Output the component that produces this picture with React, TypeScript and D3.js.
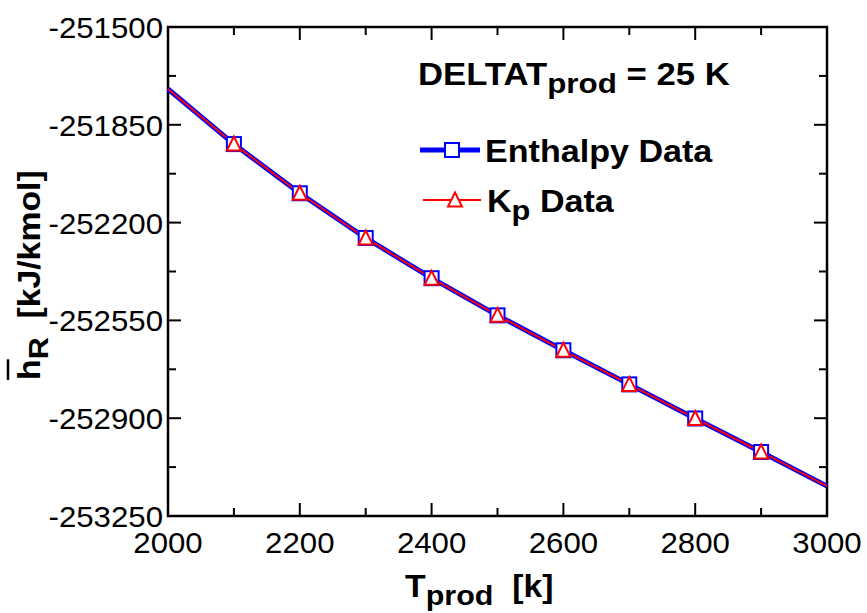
import React from "react";
import * as d3 from "d3";

const temps = [2000, 2100, 2200, 2300, 2400, 2500, 2600, 2700, 2800, 2900, 3000];
const enthalpyData = [-251722, -251919, -252095, -252255, -252399, -252532, -252657, -252779, -252901, -253021, -253143];
const kpData = [-251722, -251919, -252095, -252255, -252399, -252532, -252657, -252779, -252901, -253021, -253143];
const markerTemps = [2100, 2200, 2300, 2400, 2500, 2600, 2700, 2800, 2900];
const xTicks = [2000, 2200, 2400, 2600, 2800, 3000];
const xMinor = [2100, 2300, 2500, 2700, 2900];
const yTicks = [-251500, -251850, -252200, -252550, -252900, -253250];
const yMinor = [-251675, -252025, -252375, -252725, -253075];

const W = 867, H = 613;
const L = 168, R = 827, T = 27, B = 516;
const FONT = "'Liberation Sans', Arial, Helvetica, sans-serif";
const SX = 1.1; // horizontal stretch of bold text
const TX = 1.04; // horizontal stretch of tick labels

export default function App() {
  const x = d3.scaleLinear().domain([2000, 3000]).range([L, R]);
  const y = d3.scaleLinear().domain([-253250, -251500]).range([B, T]);
  const line = d3.line<[number, number]>().x(d => x(d[0])).y(d => y(d[1]));
  const ePts = temps.map((t, i) => [t, enthalpyData[i]] as [number, number]);
  const kPts = temps.map((t, i) => [t, kpData[i]] as [number, number]);
  const eMarks = ePts.filter(p => markerTemps.includes(p[0]));
  const kMarks = kPts.filter(p => markerTemps.includes(p[0]));
  const sq = 14;
  const tri = (cx: number, cy: number) => {
    const w = 14, h = 13;
    return `M${cx},${cy - h / 2 - 1}L${cx + w / 2},${cy + h / 2}L${cx - w / 2},${cy + h / 2}Z`;
  };
  const MAJ = 13, MIN = 8;

  return (
    <svg width={W} height={H} style={{ position: "absolute", left: 0, top: 0, background: "#fff" }} fontFamily={FONT}>
      <rect x={0} y={0} width={W} height={H} fill="#fff" />
      {/* ticks */}
      <g stroke="#000" strokeWidth={2}>
        {xTicks.map(t => (
          <g key={"xt" + t}>
            <line x1={x(t)} x2={x(t)} y1={B} y2={B - MAJ} />
            <line x1={x(t)} x2={x(t)} y1={T} y2={T + MAJ} />
          </g>
        ))}
        {xMinor.map(t => (
          <g key={"xm" + t}>
            <line x1={x(t)} x2={x(t)} y1={B} y2={B - MIN} />
            <line x1={x(t)} x2={x(t)} y1={T} y2={T + MIN} />
          </g>
        ))}
        {yTicks.map(v => (
          <g key={"yt" + v}>
            <line x1={L} x2={L + MAJ} y1={y(v)} y2={y(v)} />
            <line x1={R} x2={R - MAJ} y1={y(v)} y2={y(v)} />
          </g>
        ))}
        {yMinor.map(v => (
          <g key={"ym" + v}>
            <line x1={L} x2={L + MIN} y1={y(v)} y2={y(v)} />
            <line x1={R} x2={R - MIN} y1={y(v)} y2={y(v)} />
          </g>
        ))}
      </g>
      <rect x={L} y={T} width={R - L} height={B - T} fill="none" stroke="#000" strokeWidth={2.5} />
      {/* tick labels */}
      <g fontSize={30} fill="#000">
        {yTicks.map(v => (
          <g key={"yl" + v} transform={`translate(163,${y(v) + 11}) scale(${TX},1)`}>
            <text x={0} y={0} textAnchor="end">{String(v)}</text>
          </g>
        ))}
        {xTicks.map(t => (
          <g key={"xl" + t} transform={`translate(${x(t)},553) scale(${TX},1)`}>
            <text x={0} y={0} textAnchor="middle">{String(t)}</text>
          </g>
        ))}
      </g>
      {/* lines */}
      <path d={line(ePts) || ""} fill="none" stroke="#0000ff" strokeWidth={5} />
      <path d={line(kPts) || ""} fill="none" stroke="#ff0000" strokeWidth={2} />
      {eMarks.map(p => (
        <rect key={"sq" + p[0]} x={x(p[0]) - sq / 2} y={y(p[1]) - sq / 2} width={sq} height={sq} fill="#fff" stroke="#0000ff" strokeWidth={2} />
      ))}
      {kMarks.map(p => (
        <path key={"tr" + p[0]} d={tri(x(p[0]), y(p[1]))} fill="#fff" stroke="#ff0000" strokeWidth={2} />
      ))}
      {/* title */}
      <g transform={`translate(418,85) scale(1.12,1)`}>
        <text x={0} y={0} fontSize={31} fontWeight="bold" style={{ whiteSpace: "pre" }}>
          DELTAT<tspan fontSize={28} dy={8}>prod</tspan><tspan dy={-8}>{" = 25 K"}</tspan>
        </text>
      </g>
      {/* legend */}
      <line x1={420} x2={480} y1={150} y2={150} stroke="#0000ff" strokeWidth={5} />
      <rect x={452 - sq / 2} y={150 - sq / 2} width={sq} height={sq} fill="#fff" stroke="#0000ff" strokeWidth={2} />
      <g transform={`translate(485,162) scale(${SX},1)`}>
        <text x={0} y={0} fontSize={31} fontWeight="bold">Enthalpy Data</text>
      </g>
      <line x1={423} x2={481} y1={200} y2={200} stroke="#ff0000" strokeWidth={2} />
      <path d={tri(455, 200)} fill="#fff" stroke="#ff0000" strokeWidth={2} />
      <g transform={`translate(487,212) scale(${SX},1)`}>
        <text x={0} y={0} fontSize={31} fontWeight="bold" style={{ whiteSpace: "pre" }}>
          K<tspan fontSize={28} dy={8}>p</tspan><tspan dy={-8}>{" Data"}</tspan>
        </text>
      </g>
      {/* x label */}
      <g transform={`translate(405,597) scale(1.09,1)`}>
        <text x={0} y={0} fontSize={31} fontWeight="bold" style={{ whiteSpace: "pre" }}>
          T<tspan fontSize={28} dy={8}>prod</tspan><tspan dy={-8}>{"  [k]"}</tspan>
        </text>
      </g>
      {/* y label */}
      <g transform="translate(40,380) rotate(-90) scale(1.09,1)">
        <text x={0} y={0} fontSize={31} fontWeight="bold" style={{ whiteSpace: "pre" }}>
          h<tspan fontSize={28} dy={8}>R</tspan><tspan dy={-8}>{"  [kJ/kmol]"}</tspan>
        </text>
        <line x1={0} x2={19} y1={-32} y2={-32} stroke="#000" strokeWidth={2.5} />
      </g>
    </svg>
  );
}
